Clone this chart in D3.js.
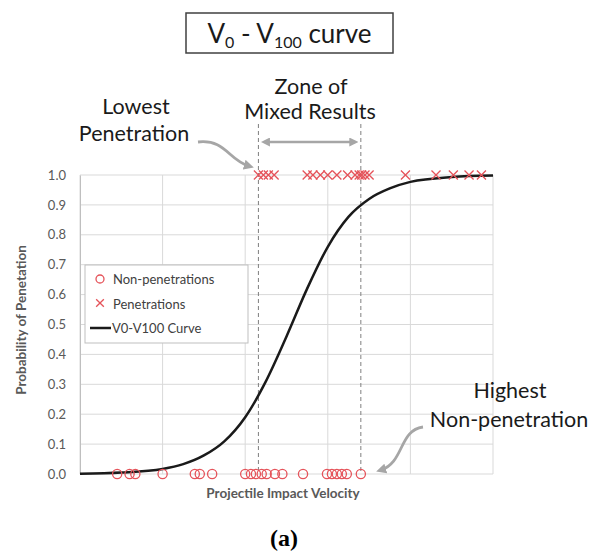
<!DOCTYPE html>
<html>
<head>
<meta charset="utf-8">
<script src="https://cdn.jsdelivr.net/npm/d3@7"></script>
<style>
  html, body { margin: 0; padding: 0; background: #fff; }
  svg { display: block; font-family: Lato, "Open Sans", sans-serif; }
</style>
</head>
<body>
<svg id="chart" width="589" height="553"></svg>
<script>
// Impact velocities (relative units) of shots that did not perforate
const nonPenetrations = [45, 60, 67, 100, 139, 145, 160, 200, 207, 213, 220, 226, 236, 245,
                         270, 299, 305, 311, 317, 323, 340];
// Impact velocities of shots that perforated
const penetrations = [216, 222, 228, 235, 275, 282, 291, 300, 311, 324, 333, 338, 341, 345,
                      350, 394, 431, 452, 471, 486];
// Fitted V0-V100 curve, sampled velocities and probabilities
const curveVelocity = [0, 50, 100, 125, 150, 175, 200, 225, 250, 275, 300, 325, 350, 375, 400, 450, 500];
const curveProbability = [0.001, 0.005, 0.017, 0.033, 0.062, 0.11, 0.19, 0.31, 0.46, 0.62, 0.76,
                          0.86, 0.92, 0.955, 0.977, 0.993, 0.998];
const yTicks = [0, 0.1, 0.2, 0.3, 0.4, 0.5, 0.6, 0.7, 0.8, 0.9, 1.0];
const xGrid = [0, 100, 200, 300, 400, 500];

const svg = d3.select("#chart");
const x = d3.scaleLinear().domain([0, 500]).range([80, 493]);
const y = d3.scaleLinear().domain([0, 1]).range([474, 175]);

const red = "#e5535a";
const gridColor = "#d9d9d9";
const textGray = "#595959";

// Gridlines
svg.append("g").selectAll("line.h").data(yTicks).join("line")
  .attr("x1", x(0)).attr("x2", x(500))
  .attr("y1", d => y(d)).attr("y2", d => y(d))
  .attr("stroke", gridColor).attr("stroke-width", 1);
svg.append("g").selectAll("line.v").data(xGrid).join("line")
  .attr("x1", d => x(d)).attr("x2", d => x(d))
  .attr("y1", y(0)).attr("y2", y(1))
  .attr("stroke", gridColor).attr("stroke-width", 1);

// Y axis labels
const yAxis = d3.axisLeft(y).tickValues(yTicks).tickFormat(d3.format(".1f")).tickSize(0).tickPadding(14);
const ya = svg.append("g").attr("transform", `translate(${x(0)},0)`).call(yAxis);
ya.select(".domain").attr("stroke", "#bfbfbf");
ya.selectAll("text").attr("fill", textGray).attr("font-size", 13).attr("font-family", "Lato, sans-serif");

// Axis titles
svg.append("text").attr("transform", "translate(26,320) rotate(-90)")
  .attr("text-anchor", "middle").attr("fill", textGray).attr("font-weight", "bold")
  .attr("font-size", 13.5).text("Probability of Penetation");
svg.append("text").attr("x", 283).attr("y", 498)
  .attr("text-anchor", "middle").attr("fill", textGray).attr("font-weight", "bold")
  .attr("font-size", 13.5).text("Projectile Impact Velocity");

// Zone of mixed results boundaries
const lowestPen = d3.min(penetrations);
const highestNon = d3.max(nonPenetrations);
svg.append("g").selectAll("line").data([lowestPen, highestNon]).join("line")
  .attr("x1", d => x(d)).attr("x2", d => x(d))
  .attr("y1", 124).attr("y2", y(0))
  .attr("stroke", "#7f7f7f").attr("stroke-width", 1).attr("stroke-dasharray", "4,3");

// Curve
const curvePts = curveVelocity.map((v, i) => [v, curveProbability[i]]);
svg.append("path").datum(curvePts)
  .attr("d", d3.line().x(d => x(d[0])).y(d => y(d[1])).curve(d3.curveMonotoneX))
  .attr("fill", "none").attr("stroke", "#1a1a1a").attr("stroke-width", 2.5);

// Non-penetrations
svg.append("g").selectAll("circle").data(nonPenetrations).join("circle")
  .attr("cx", d => x(d)).attr("cy", y(0)).attr("r", 4.6)
  .attr("fill", "none").attr("stroke", red).attr("stroke-width", 1.3);

// Penetrations
const cross = d3.symbol().type(d3.symbolX).size(55);
svg.append("g").selectAll("path").data(penetrations).join("path")
  .attr("transform", d => `translate(${x(d)},${y(1)})`)
  .attr("d", cross).attr("fill", "none").attr("stroke", red).attr("stroke-width", 1.3);

// Legend
const lg = svg.append("g");
lg.append("rect").attr("x", 85).attr("y", 265).attr("width", 163).attr("height", 78)
  .attr("fill", "#fff").attr("stroke", "#bfbfbf").attr("stroke-width", 1);
lg.append("circle").attr("cx", 100).attr("cy", 279).attr("r", 4)
  .attr("fill", "none").attr("stroke", red).attr("stroke-width", 1.3);
lg.append("path").attr("transform", "translate(100,303)").attr("d", d3.symbol().type(d3.symbolX).size(40))
  .attr("fill", "none").attr("stroke", red).attr("stroke-width", 1.3);
lg.append("line").attr("x1", 90).attr("x2", 111).attr("y1", 328).attr("y2", 328)
  .attr("stroke", "#1a1a1a").attr("stroke-width", 2.5);
lg.selectAll("text").data(["Non-penetrations", "Penetrations", "V0-V100 Curve"]).join("text")
  .attr("x", (d, i) => i === 2 ? 112 : 113).attr("y", (d, i) => 284 + i * 24.5)
  .attr("fill", "#404040").attr("font-size", 13).text(d => d);

// Title box
svg.append("rect").attr("x", 186).attr("y", 13).attr("width", 207).attr("height", 40)
  .attr("fill", "#fff").attr("stroke", "#404040").attr("stroke-width", 1.5);
const title = svg.append("text").attr("x", 289.5).attr("y", 43).attr("text-anchor", "middle")
  .attr("font-size", 26).attr("fill", "#1a1a1a");
title.append("tspan").text("V");
title.append("tspan").attr("font-size", 16).attr("dy", 5).text("0");
title.append("tspan").attr("dy", -5).text(" - V");
title.append("tspan").attr("font-size", 16).attr("dy", 5).text("100");
title.append("tspan").attr("dy", -5).text(" curve");

// Annotations
const ann = svg.append("g").attr("fill", "#1a1a1a").attr("font-size", 21.5).attr("text-anchor", "middle");
ann.append("text").attr("x", 311).attr("y", 94).text("Zone of");
ann.append("text").attr("x", 310).attr("y", 119).text("Mixed Results");
ann.append("text").attr("x", 136).attr("y", 114).text("Lowest");
ann.append("text").attr("x", 134).attr("y", 141).text("Penetration");
ann.append("text").attr("x", 510).attr("y", 398).text("Highest");
ann.append("text").attr("x", 509).attr("y", 427).text("Non-penetration");

// Arrowhead markers
const defs = svg.append("defs");
defs.append("marker").attr("id", "ah").attr("viewBox", "0 0 10 10")
  .attr("refX", 5).attr("refY", 5).attr("markerWidth", 3.6).attr("markerHeight", 3.6)
  .attr("orient", "auto-start-reverse")
  .append("path").attr("d", "M0,0 L10,5 L0,10 Z").attr("fill", "#a6a6a6");

const arrowGray = "#a6a6a6";
svg.append("line").attr("x1", x(lowestPen) + 7).attr("x2", x(highestNon) - 7)
  .attr("y1", 142).attr("y2", 142)
  .attr("stroke", arrowGray).attr("stroke-width", 2.5)
  .attr("marker-start", "url(#ah)").attr("marker-end", "url(#ah)");
svg.append("path").attr("d", "M198,142 C226,139 228,160 249,166")
  .attr("fill", "none").attr("stroke", arrowGray).attr("stroke-width", 2.8)
  .attr("marker-end", "url(#ah)");
svg.append("path").attr("d", "M423,427 C399,430 404,463 381,470")
  .attr("fill", "none").attr("stroke", arrowGray).attr("stroke-width", 2.8)
  .attr("marker-end", "url(#ah)");

// Panel label
svg.append("text").attr("x", 284).attr("y", 546).attr("text-anchor", "middle")
  .attr("font-family", "'Liberation Serif', 'DejaVu Serif', serif").attr("font-weight", "bold")
  .attr("font-size", 24).attr("fill", "#000").text("(a)");
</script>
</body>
</html>
